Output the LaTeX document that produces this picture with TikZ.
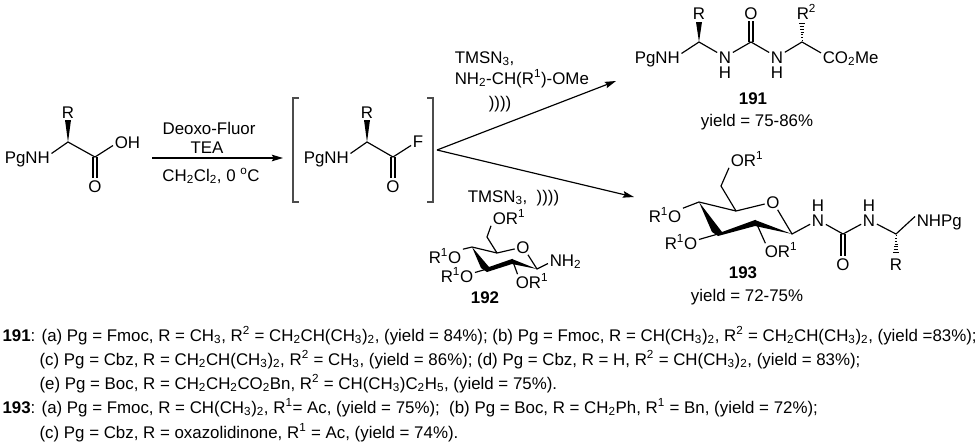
\documentclass[tikz,border=0pt]{standalone}
\usepackage{fontspec}
\setmainfont{Liberation Sans}
\usetikzlibrary{calc,arrows.meta}

% Solid and hashed stereo bonds, from the stereocentre to the free tip
\newcommand{\wedgebond}[2]{\fill (#1) -- ($(#2)+(-3,0)$) -- ($(#2)+(3,0)$) -- cycle;}
\newcommand{\hashbond}[2]{\foreach \t in {0.08,0.22,...,1.0}
    {\draw[line width=.6pt] ($(#1)!\t!(#2)+(-\t*3,0)$) -- ($(#1)!\t!(#2)+(\t*3,0)$);}}
\newcommand{\dblbond}[2]{\draw ([xshift=-1.7pt]#1) -- ([xshift=-1.7pt]#2)
    ([xshift=1.7pt]#1) -- ([xshift=1.7pt]#2);}

\begin{document}
\begin{tikzpicture}[x=0.03cm, y=-0.03cm, font=\Large, line width=1pt,
        >={Stealth[length=9.5pt, width=5.6pt, inset=1.5pt]}]
    % Setup the styles for the atoms and arrows
    \tikzset{atom/.style={inner sep=1pt, text height=10.3pt, text depth=0pt},
        note/.style={inner sep=0pt, anchor=base west},
        rxn/.style={->, line width=1pt},
        bracket/.style={draw=black!70, line width=1pt}}
    \useasboundingbox (0, 0) rectangle (980, 443);

    % Draw the amino acid
    \node[atom, anchor=west] at (3, 157)   (pgA) {PgNH};
    \node[atom]              at (68, 112)  (rA)  {R};
    \node[atom, anchor=west] at (113, 142) (ohA) {OH};
    \node[atom]              at (95, 186)  (oA)  {O};
    \coordinate (cA) at (68, 142);
    \coordinate (tipA) at (68, 120);
    \coordinate (coA) at (95, 157);
    \draw ([yshift=3pt]pgA.east) -- (cA) -- (coA) -- ([yshift=-3pt]ohA.west);
    \wedgebond{cA}{tipA}
    \dblbond{coA}{oA.north}

    % Draw the first arrow and its labels
    \coordinate (startA) at (152, 158);
    \coordinate (endA)   at (283, 158);
    \draw[rxn] (startA) -- (endA);
    \node[atom] at (209, 128) (deoxo) {Deoxo-Fluor};
    \node[atom] at (207, 147) (tea)   {TEA};
    \node[atom] at (211, 175) (solv)  {CH\textsubscript{2}Cl\textsubscript{2}, 0 \textsuperscript{o}C};

    % Draw the acyl fluoride in brackets
    \draw[bracket] (299, 98) -- (293, 98) -- (293, 202) -- (299, 202);
    \draw[bracket] (427, 98) -- (433, 98) -- (433, 202) -- (427, 202);
    \node[atom, anchor=west] at (302, 157) (pgB) {PgNH};
    \node[atom]              at (367, 112) (rB)  {R};
    \node[atom]              at (418, 141) (fB)  {F};
    \node[atom]              at (393, 186) (oB)  {O};
    \coordinate (cB) at (367, 142);
    \coordinate (tipB) at (367, 120);
    \coordinate (coB) at (393, 157);
    \draw ([yshift=3pt]pgB.east) -- (cB) -- (coB) -- (fB);
    \wedgebond{cB}{tipB}
    \dblbond{coB}{oB.north}

    % Draw the two branches
    \coordinate (apex) at (437, 150);
    \coordinate (endU) at (616, 81);
    \coordinate (endL) at (634, 197);
    \draw[rxn] (apex) -- (endU);
    \draw[rxn] (apex) -- (endL);
    \node[atom, anchor=west] at (453, 57)  (tmsU) {TMSN\textsubscript{3},};
    \node[atom, anchor=west] at (453, 78)  (nh2U) {NH\textsubscript{2}-CH(R\textsuperscript{1})-OMe};
    \node[atom]              at (500, 102) (usU)  {))))};
    \node[atom, anchor=west] at (466, 196) (tmsL) {TMSN\textsubscript{3},~~))))};

    % Draw the sugar amine 192
    \node[atom, anchor=west] at (491, 218) (orS1) {OR\textsuperscript{1}};
    \node[atom]              at (523, 247) (oS)   {O};
    \node[atom, anchor=west] at (427, 257) (orS2) {R\textsuperscript{1}O};
    \node[atom, anchor=west] at (439, 276) (orS3) {R\textsuperscript{1}O};
    \node[atom, anchor=west] at (514, 282) (orS4) {OR\textsuperscript{1}};
    \node[atom, anchor=west] at (548, 260) (nh2S) {NH\textsubscript{2}};
    \node[atom]              at (485, 297) (n192) {\textbf{192}};
    \coordinate (s5) at (497, 253);
    \coordinate (s6) at (487, 237);
    \coordinate (s1) at (537, 269);
    \coordinate (s2) at (512, 259);
    \coordinate (s3) at (487, 269);
    \coordinate (s4) at (472, 247);
    \fill (s4) -- (481, 268) -- (487, 272) -- (512, 264) -- (s1) -- (s2) -- (489, 267) -- cycle;
    \draw (orS1.south west) -- (s6) -- (s5) -- (oS) -- (s1) -- ([yshift=-3pt]nh2S.west);
    \draw (s5) -- (s4) -- (orS2.north east);
    \draw (s3) -- ([yshift=3pt]orS3.east);
    \draw (s2) -- ([xshift=3pt]orS4.north west);

    % Draw the urea 191
    \node[atom, anchor=west] at (633, 57)  (pgC)  {PgNH};
    \node[atom]              at (699, 13)  (rC)   {R};
    \node[atom]              at (725, 57)  (nC1)  {N};
    \node[atom]              at (725, 72)  (hC1)  {H};
    \node[atom]              at (751, 13)  (oC)   {O};
    \node[atom]              at (777, 57)  (nC2)  {N};
    \node[atom]              at (777, 72)  (hC2)  {H};
    \node[atom, anchor=west] at (795, 13)  (rC2)  {R\textsuperscript{2}};
    \node[atom, anchor=west] at (821, 57)  (co2C) {CO\textsubscript{2}Me};
    \node[atom]              at (753, 98)  (n191) {\textbf{191}};
    \node[atom]              at (757, 120) (yC)   {yield = 75-86\%};
    \coordinate (cC1) at (699, 42);
    \coordinate (tipC1) at (699, 22);
    \coordinate (coC) at (751, 42);
    \coordinate (cC2) at (802, 42);
    \coordinate (tipC2) at (802, 22);
    \draw ([yshift=3pt]pgC.east) -- (cC1) -- (nC1) -- (coC) -- (nC2) -- (cC2)
        -- ([yshift=3.5pt]co2C.west);
    \wedgebond{cC1}{tipC1}
    \hashbond{cC2}{tipC2}
    \dblbond{coC}{oC.south}

    % Draw the urea 193
    \node[atom, anchor=west] at (729, 160) (orD1) {OR\textsuperscript{1}};
    \node[atom]              at (773, 202) (oD)   {O};
    \node[atom, anchor=west] at (647, 216) (orD2) {R\textsuperscript{1}O};
    \node[atom, anchor=west] at (663, 243) (orD3) {R\textsuperscript{1}O};
    \node[atom, anchor=west] at (763, 251) (orD4) {OR\textsuperscript{1}};
    \node[atom]              at (818, 220) (nD1)  {N};
    \node[atom]              at (818, 205) (hD1)  {H};
    \node[atom]              at (843, 264) (oD2)  {O};
    \node[atom]              at (869, 220) (nD2)  {N};
    \node[atom]              at (869, 205) (hD2)  {H};
    \node[atom]              at (896, 264) (rD)   {R};
    \node[atom, anchor=west] at (915, 220) (pgD)  {NHPg};
    \node[atom]              at (743, 272) (n193) {\textbf{193}};
    \node[atom]              at (747, 295) (yD)   {yield = 72-75\%};
    \coordinate (d5) at (736, 211);
    \coordinate (d6) at (721, 186);
    \coordinate (d1) at (792, 234);
    \coordinate (d2) at (755, 220);
    \coordinate (d3) at (718, 234);
    \coordinate (d4) at (699, 202);
    \coordinate (coD) at (843, 234);
    \coordinate (cD) at (896, 234);
    \coordinate (tipD) at (896, 254);
    \fill (d4) -- (712, 232) -- (718, 236) -- (755, 226) -- (d1) -- (d2) -- (722, 232) -- cycle;
    \draw (orD1.south west) -- (d6) -- (d5) -- (oD) -- (d1) -- (nD1) -- (coD) -- (nD2)
        -- (cD) -- ([yshift=3pt]pgD.west);
    \draw (d5) -- (d4) -- (orD2.north east);
    \draw (d3) -- ([yshift=3pt]orD3.east);
    \draw (d2) -- ([xshift=2pt]orD4.north west);
    \hashbond{cD}{tipD}
    \dblbond{coD}{oD2.north}

    % Write the table of substituents
    \node[note] at (2, 341) (tabA) {\textbf{191}: (a) Pg = Fmoc, R = CH\textsubscript{3}, R\textsuperscript{2} = CH\textsubscript{2}CH(CH\textsubscript{3})\textsubscript{2}, (yield = 84\%); (b) Pg = Fmoc, R = CH(CH\textsubscript{3})\textsubscript{2}, R\textsuperscript{2} = CH\textsubscript{2}CH(CH\textsubscript{3})\textsubscript{2}, (yield =83\%);};
    \node[note] at (39, 365) (tabB) {(c) Pg = Cbz, R = CH\textsubscript{2}CH(CH\textsubscript{3})\textsubscript{2}, R\textsuperscript{2} = CH\textsubscript{3}, (yield = 86\%); (d) Pg = Cbz, R = H, R\textsuperscript{2} = CH(CH\textsubscript{3})\textsubscript{2}, (yield = 83\%);};
    \node[note] at (39, 389) (tabC) {(e) Pg = Boc, R = CH\textsubscript{2}CH\textsubscript{2}CO\textsubscript{2}Bn, R\textsuperscript{2} = CH(CH\textsubscript{3})C\textsubscript{2}H\textsubscript{5}, (yield = 75\%).};
    \node[note] at (2, 413) (tabD) {\textbf{193}: (a) Pg = Fmoc, R = CH(CH\textsubscript{3})\textsubscript{2}, R\textsuperscript{1}= Ac, (yield = 75\%);~~(b) Pg = Boc, R = CH\textsubscript{2}Ph, R\textsuperscript{1} = Bn, (yield = 72\%);};
    \node[note] at (39, 438) (tabE) {(c) Pg = Cbz, R = oxazolidinone, R\textsuperscript{1} = Ac, (yield = 74\%).};
\end{tikzpicture}
\end{document}
